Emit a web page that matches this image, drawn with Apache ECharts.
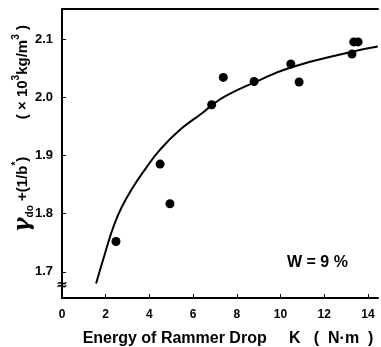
<!DOCTYPE html>
<html>
<head>
<meta charset="utf-8">
<script src="https://cdn.jsdelivr.net/npm/echarts@6/dist/echarts.min.js"></script>
<style>
  html, body { margin: 0; padding: 0; background: #fff; }
  #chart { width: 381px; height: 347px; }
</style>
</head>
<body>
<div id="chart"></div>
<script>
// measured points
var energyPts = [2.47, 4.49, 4.94, 6.85, 7.38, 8.79, 10.47, 10.85, 13.27, 13.35, 13.55];
var densityPts = [1.752, 1.885, 1.817, 1.987, 2.034, 2.027, 2.057, 2.026, 2.074, 2.095, 2.095];

// fitted curve
var energyFit = [1.56, 1.97, 2.35, 2.73, 3.26, 3.80, 4.49, 5.40, 6.39, 6.85, 7.54, 8.79, 10.47, 13.27, 14.45];
var densityFit = [1.680, 1.732, 1.777, 1.811, 1.846, 1.876, 1.910, 1.944, 1.972, 1.986, 2.003, 2.025, 2.051, 2.078, 2.087];

var xTicks = [0, 2, 4, 6, 8, 10, 12, 14];
var yTicks = [1.7, 1.8, 1.9, 2.0, 2.1];

function zip(a, b) {
    return a.map(function (v, i) { return [v, b[i]]; });
}

var font = 'Liberation Sans';
var chart = echarts.init(document.getElementById('chart'));

chart.setOption({
    animation: false,
    grid: { left: 62, right: 3, top: 9, bottom: 49, outerBoundsMode: 'none' },
    xAxis: [{
        type: 'value',
        min: 0,
        max: 14.46,
        splitLine: { show: false },
        axisLine: { lineStyle: { color: '#000', width: 2 } },
        axisTick: { inside: true, length: 4, customValues: xTicks.slice(1), lineStyle: { color: '#000', width: 1 } },
        axisLabel: {
            customValues: xTicks, margin: 11, color: '#000',
            fontFamily: font, fontWeight: 'bold', fontSize: 12,
            formatter: function (v) { return String(v); }
        },
        name: 'Energy of Rammer Drop     K   (  N·m  )',
        nameLocation: 'middle',
        nameGap: 33,
        nameMoveOverlap: false,
        nameTextStyle: { color: '#000', fontFamily: font, fontWeight: 'bold', fontSize: 16, padding: [0, 0, 0, 16] }
    }, {
        type: 'value',
        position: 'top',
        min: 0,
        max: 14.46,
        splitLine: { show: false },
        axisLine: { show: true, lineStyle: { color: '#000', width: 2 } },
        axisTick: { show: false },
        axisLabel: { show: false }
    }],
    yAxis: {
        type: 'value',
        min: 1.655,
        max: 2.1515,
        splitLine: { show: false },
        axisLine: { show: true, lineStyle: { color: '#000', width: 2 } },
        axisTick: { show: true, inside: true, length: 4, customValues: yTicks, lineStyle: { color: '#000', width: 1 } },
        axisLabel: {
            customValues: yTicks, margin: 9, color: '#000',
            fontFamily: font, fontWeight: 'bold', fontSize: 13,
            formatter: function (v) { return v.toFixed(1); }
        },
        name: '{g|γ}{sub|do}{n| +(1/b}{sup|*}{n|)         ( × 10}{sup|3}{n|kg/m}{sup|3}{n| )}',
        nameLocation: 'middle',
        nameRotate: 90,
        nameGap: 27,
        nameMoveOverlap: false,
        nameTextStyle: {
            color: '#000', fontFamily: font, fontWeight: 'bold', fontSize: 15,
            padding: [0, 0, 0, 50],
            rich: {
                g: { fontFamily: 'DejaVu Serif', fontStyle: 'italic', fontSize: 22, color: '#000', lineHeight: 24 },
                sub: { fontFamily: font, fontWeight: 'bold', fontSize: 10, color: '#000', verticalAlign: 'bottom', lineHeight: 24 },
                sup: { fontFamily: font, fontWeight: 'bold', fontSize: 10, color: '#000', verticalAlign: 'top', lineHeight: 24 },
                n: { fontFamily: font, fontWeight: 'bold', fontSize: 15, color: '#000', lineHeight: 24 }
            }
        }
    },
    graphic: [{
        type: 'text',
        left: 287,
        top: 255,
        style: { text: 'W = 9 %', font: 'bold 16px "Liberation Sans"', fill: '#000' }
    }, {
        type: 'text',
        x: 62,
        y: 285,
        style: { text: '≈', font: 'bold 14px "DejaVu Sans"', fill: '#000', align: 'center', verticalAlign: 'middle', backgroundColor: '#fff' }
    }],
    series: [{
        type: 'line',
        data: zip(energyFit, densityFit),
        smooth: 0.5,
        showSymbol: false,
        lineStyle: { color: '#000', width: 2 },
        z: 2
    }, {
        type: 'scatter',
        data: zip(energyPts, densityPts),
        symbolSize: 9,
        itemStyle: { color: '#000', opacity: 1 },
        z: 3
    }]
});
</script>
</body>
</html>
